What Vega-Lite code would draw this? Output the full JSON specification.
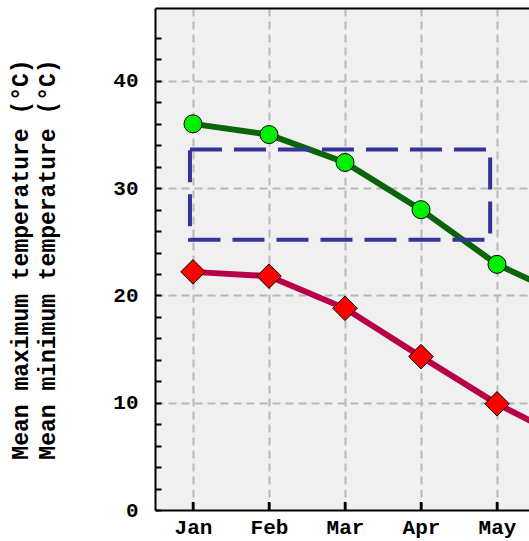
{
  "$schema": "https://vega.github.io/schema/vega-lite/v6.json",
  "width": 374,
  "height": 502,
  "autosize": {"type": "none"},
  "padding": {"left": 155, "top": 8, "right": 0, "bottom": 31},
  "background": "white",
  "config": {
    "view": {"fill": "#f0f0f0", "stroke": null},
    "font": "Liberation Mono"
  },
  "datasets": {
    "temps": [
      {"month": 1, "series": "max", "temp": 36.0},
      {"month": 2, "series": "max", "temp": 35.0},
      {"month": 3, "series": "max", "temp": 32.4},
      {"month": 4, "series": "max", "temp": 28.0},
      {"month": 5, "series": "max", "temp": 22.9},
      {"month": 6, "series": "max", "temp": 19.6},
      {"month": 1, "series": "min", "temp": 22.2},
      {"month": 2, "series": "min", "temp": 21.8},
      {"month": 3, "series": "min", "temp": 18.8},
      {"month": 4, "series": "min", "temp": 14.3},
      {"month": 5, "series": "min", "temp": 9.9},
      {"month": 6, "series": "min", "temp": 6.3}
    ],
    "box": [{"month": 0.96, "month2": 4.91, "temp": 25.2, "temp2": 33.6}],
    "xticks": [
      {"month": 1, "temp": 0, "temp2": 0.75},
      {"month": 2, "temp": 0, "temp2": 0.75},
      {"month": 3, "temp": 0, "temp2": 0.75},
      {"month": 4, "temp": 0, "temp2": 0.75},
      {"month": 5, "temp": 0, "temp2": 0.75}
    ]
  },
  "encoding": {
    "y": {
      "field": "temp", "type": "quantitative",
      "scale": {"domain": [0, 46.8], "nice": false},
      "axis": {
        "values": [0, 2, 4, 6, 8, 10, 12, 14, 16, 18, 20, 22, 24, 26, 28, 30, 32, 34, 36, 38, 40, 42, 44],
        "labelExpr": "datum.value % 10 === 0 ? datum.value : ''",
        "grid": true, "gridDash": [8, 5], "gridColor": "#b8b8b8", "gridWidth": 2,
        "gridOpacity": {"condition": {"test": "datum.value % 10 === 0 && datum.value > 0", "value": 1}, "value": 0},
        "ticks": true, "tickSize": -6, "tickColor": "black", "tickWidth": 2,
        "domainColor": "black", "domainWidth": 2,
        "labelFont": "Liberation Mono", "labelFontWeight": "bold", "labelFontSize": 21,
        "labelColor": "black", "labelPadding": 23, "labelFlush": false,
        "title": ["Mean maximum temperature (°C)", "Mean minimum temperature (°C)"],
        "titleFont": "Liberation Mono", "titleFontWeight": "bold", "titleFontSize": 23,
        "titleColor": "black", "titleAngle": -90, "titleAlign": "center", "titleBaseline": "top",
        "titleX": -146, "titleY": 251, "titleLineHeight": 27
      }
    }
  },
  "resolve": {"axis": {"x": "independent"}},
  "layer": [
    {
      "data": {"name": "temps"},
      "mark": {"type": "line", "interpolate": "linear", "strokeWidth": 6, "clip": true},
      "encoding": {
        "x": {
          "field": "month", "type": "quantitative",
          "scale": {"domain": [0.5, 5.421], "nice": false, "zero": false},
          "axis": {
            "orient": "bottom",
            "values": [1, 2, 3, 4, 5],
            "labelExpr": "['','Jan','Feb','Mar','Apr','May','Jun'][datum.value]",
            "title": null,
            "grid": true, "gridDash": [8, 5], "gridColor": "#b8b8b8", "gridWidth": 2,
            "ticks": true, "tickSize": -8, "tickColor": "black", "tickWidth": 2, "tickOpacity": 1,
            "domainColor": "black", "domainWidth": 2,
            "labelFont": "Liberation Mono", "labelFontWeight": "bold", "labelFontSize": 21,
            "labelColor": "black", "labelPadding": 14, "labelBaseline": "top", "labelFlush": false
          }
        },
        "color": {
          "field": "series", "type": "nominal",
          "scale": {"domain": ["max", "min"], "range": ["#0a640a", "#b80048"]},
          "legend": null
        }
      }
    },
    {
      "data": {"name": "xticks"},
      "mark": {"type": "rule", "strokeWidth": 2.5, "color": "#000000", "opacity": 1},
      "encoding": {
        "x": {"field": "month", "type": "quantitative", "axis": null},
        "y2": {"field": "temp2"}
      }
    },
    {
      "data": {"name": "temps"},
      "mark": {"type": "point", "filled": true, "clip": true, "opacity": 1},
      "encoding": {
        "x": {
          "field": "month", "type": "quantitative",
          "scale": {"domain": [0.5, 5.421], "nice": false, "zero": false},
          "axis": {"orient": "top", "labels": false, "values": [], "grid": false, "title": null, "domainColor": "black", "domainWidth": 2}
        },
        "shape": {"field": "series", "type": "nominal", "scale": {"domain": ["max", "min"], "range": ["circle", "diamond"]}, "legend": null},
        "fill": {"field": "series", "type": "nominal", "scale": {"domain": ["max", "min"], "range": ["#00ee00", "#ff0000"]}, "legend": null},
        "size": {"field": "series", "type": "nominal", "scale": {"domain": ["max", "min"], "range": [324, 600]}, "legend": null},
        "stroke": {"value": "black"},
        "strokeWidth": {"value": 1}
      }
    },
    {
      "data": {"name": "box"},
      "mark": {"type": "rect", "fill": null, "fillOpacity": 0, "stroke": "#333399", "strokeWidth": 4, "strokeDash": [32, 12]},
      "encoding": {
        "x": {"field": "month", "type": "quantitative", "axis": null},
        "x2": {"field": "month2"},
        "y2": {"field": "temp2"}
      }
    }
  ]
}
